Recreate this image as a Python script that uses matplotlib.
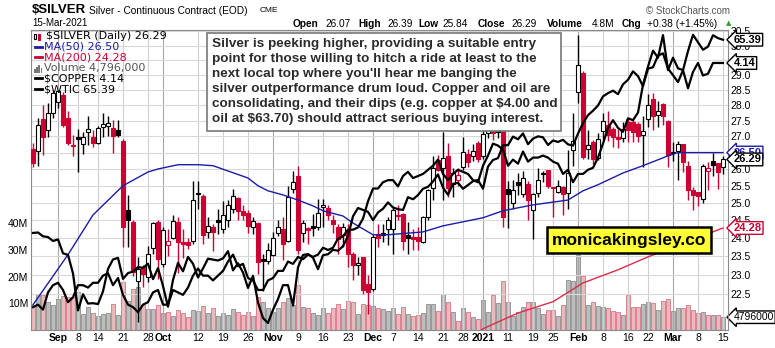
import numpy as np
import matplotlib
matplotlib.use("Agg")
import matplotlib.pyplot as plt
from matplotlib.patches import Rectangle
from matplotlib.lines import Line2D
from matplotlib.ticker import NullLocator
from matplotlib.transforms import blended_transform_factory as blend

W, H = 775, 348

# trading-day index: 0 = 8-Sep-2020 ... 129 = 15-Mar-2021
day = np.arange(-9, 130)

opn = [26.62, 26.55, 27.56, 27.21, 27.75, 28.10, 28.34, 27.59, 26.72,
       26.97, 26.78, 27.14, 26.97, 26.81, 27.30, 27.33, 27.27, 27.21, 26.87, 24.78, 24.46, 22.83, 23.20, 22.95, 23.72, 24.46,
       23.28, 23.80, 24.00, 24.46, 23.88, 23.88, 23.93, 25.30, 25.19, 24.18, 24.32, 24.52, 24.24, 24.52, 24.81, 25.13, 24.75, 24.72, 24.32, 24.43, 23.41, 23.36,
       23.53, 24.13, 24.24, 23.93, 25.39, 25.80, 24.13, 24.27, 24.33, 24.32, 24.87, 24.84, 24.52, 24.32, 24.07, 24.21, 23.57, 23.25, 23.47, 22.75,
       22.62, 24.10, 24.13, 24.24, 24.24, 24.61, 24.69, 24.07, 24.04, 24.04, 23.90, 24.58, 25.44, 26.28, 26.04, 26.41, 25.56, 25.68, 26.07, 26.47, 26.40, 26.80,
       26.40, 27.10, 27.75, 27.40, 27.24, 25.39, 24.98, 25.62, 25.25, 25.56, 24.78, 25.28, 25.89, 25.98, 25.45, 25.33, 25.45, 25.30, 26.59,
       28.42, 29.07, 26.62, 26.84, 26.34, 27.18, 27.37, 27.24, 26.98, 26.94, 27.46, 27.46, 27.40, 27.05, 27.56, 28.21, 27.69, 28.04, 27.50,
       26.53, 26.56, 26.75, 26.10, 25.36, 25.33, 25.10, 25.95, 26.25, 26.19, 26.07]
high = [26.80, 27.58, 28.00, 28.08, 28.45, 28.50, 28.42, 27.82, 27.06,
        27.24, 27.15, 27.66, 27.21, 27.34, 27.76, 27.65, 27.53, 27.53, 26.93, 25.22, 24.52, 23.47, 23.25, 23.77, 24.46, 24.52,
        24.30, 24.24, 24.66, 24.58, 24.24, 24.00, 25.65, 25.65, 25.25, 24.58, 24.38, 24.81, 25.04, 25.07, 25.39, 25.16, 24.95, 24.78, 24.58, 24.46, 23.57, 23.85,
        24.16, 24.52, 24.58, 25.50, 25.95, 26.10, 24.52, 24.30, 24.69, 25.10, 25.10, 24.95, 24.66, 24.38, 24.43, 24.38, 23.60, 23.47, 23.47, 22.98,
        24.09, 24.38, 24.38, 24.58, 24.87, 24.95, 24.72, 24.45, 24.24, 24.30, 24.63, 25.39, 26.41, 26.44, 27.13, 26.80, 26.04, 26.04, 26.97, 26.62, 26.75, 26.87,
        27.30, 27.80, 28.00, 27.50, 27.30, 25.65, 25.68, 25.89, 25.95, 25.65, 25.30, 26.04, 25.95, 25.98, 25.47, 25.68, 25.50, 26.59, 27.75,
        30.38, 29.14, 27.21, 26.90, 27.12, 27.75, 27.82, 27.30, 27.24, 27.47, 27.56, 27.56, 27.47, 27.66, 28.35, 28.41, 28.15, 28.08, 27.53,
        26.84, 26.87, 26.75, 26.25, 25.45, 25.33, 26.16, 26.22, 26.50, 26.19, 26.39]
low = [26.07, 26.10, 26.43, 26.99, 27.60, 27.90, 27.30, 26.72, 26.40,
       25.92, 26.47, 26.72, 26.68, 26.75, 26.99, 27.00, 26.50, 26.99, 23.75, 23.75, 22.97, 21.78, 22.67, 22.80, 23.55, 22.88,
       23.20, 23.50, 23.96, 23.05, 23.44, 23.69, 23.82, 24.81, 23.82, 24.00, 23.63, 24.10, 24.15, 24.30, 24.72, 24.50, 24.52, 24.15, 24.10, 23.02, 22.57, 23.30,
       23.50, 24.05, 23.39, 23.88, 25.30, 23.55, 23.88, 23.82, 24.05, 24.21, 24.30, 24.50, 24.15, 23.55, 23.74, 23.20, 22.85, 23.00, 22.49, 21.97,
       22.57, 23.74, 23.90, 23.80, 23.55, 24.50, 23.66, 23.55, 23.66, 23.66, 23.85, 24.52, 25.07, 25.95, 25.07, 25.16, 25.16, 25.50, 25.98, 26.07, 26.25, 26.20,
       26.30, 26.95, 26.90, 26.95, 24.30, 24.29, 24.81, 25.22, 25.16, 24.52, 23.96, 25.16, 25.60, 25.44, 24.60, 25.30, 24.64, 24.81, 26.10,
       28.07, 26.31, 26.31, 26.16, 26.28, 26.90, 26.87, 26.68, 26.65, 26.84, 26.84, 26.84, 26.84, 26.07, 27.31, 27.21, 27.30, 27.37, 26.07,
       26.25, 25.68, 25.92, 25.07, 24.78, 24.90, 24.98, 25.36, 25.80, 25.39, 25.84]
close = [26.19, 27.37, 26.99, 27.75, 28.40, 28.45, 27.37, 26.81, 26.69,
         26.91, 26.99, 27.24, 26.79, 27.27, 27.40, 27.43, 27.02, 27.05, 24.30, 24.52, 23.07, 23.15, 23.02, 23.55, 24.43, 23.41,
         24.21, 23.93, 24.49, 23.88, 23.83, 23.80, 25.07, 25.25, 24.07, 24.35, 24.18, 24.44, 24.66, 24.95, 25.19, 24.75, 24.66, 24.35, 24.49, 23.33, 23.36, 23.66,
         23.99, 24.30, 23.82, 25.16, 25.62, 23.66, 24.41, 24.21, 24.27, 24.72, 24.95, 24.64, 24.38, 23.96, 24.32, 23.55, 23.25, 23.31, 22.59, 22.54,
         24.04, 24.01, 24.07, 24.52, 24.78, 24.66, 23.93, 24.00, 23.96, 23.93, 24.60, 25.36, 26.04, 25.98, 26.34, 25.44, 25.89, 25.83, 26.53, 26.22, 26.56, 26.31,
         27.09, 27.65, 27.10, 27.15, 24.58, 25.25, 25.36, 25.53, 25.74, 25.07, 25.25, 25.68, 25.86, 25.50, 25.42, 25.48, 25.25, 25.89, 26.87,
         29.34, 26.37, 26.74, 26.31, 26.93, 27.50, 27.05, 26.97, 26.92, 27.24, 27.20, 27.15, 27.00, 27.18, 28.02, 27.66, 27.82, 27.66, 26.43,
         26.50, 26.75, 26.22, 25.36, 25.22, 25.19, 26.10, 26.04, 26.13, 25.91, 26.29]
volume_m = [9.4, 13.5, 13.1, 10.5, 9.4, 11.6, 12.7, 12.4, 12.4,
            14.2, 6.0, 8.6, 6.4, 5.2, 6.0, 6.4, 9.7, 5.6, 18.0, 10.9, 15.4, 16.1, 9.4, 7.9, 7.9, 9.4,
            6.4, 6.7, 5.2, 7.5, 6.4, 4.9, 7.5, 7.1, 9.0, 6.4, 8.2, 5.2, 6.4, 5.6, 7.9, 6.7, 5.6, 6.7, 5.2, 12.4, 10.5, 8.2,
            6.7, 8.2, 10.5, 12.0, 9.4, 16.9, 8.6, 8.2, 6.4, 5.6, 8.2, 6.4, 8.2, 9.7, 7.9, 10.9, 10.5, 6.0, 9.7, 9.4,
            9.0, 8.2, 7.9, 7.1, 8.2, 6.0, 8.6, 6.0, 5.2, 5.6, 6.4, 9.7, 9.7, 7.1, 13.5, 10.5, 6.7, 3.4, 8.2, 6.7, 4.9, 4.1,
            11.2, 6.7, 13.1, 10.0, 18.4, 10.5, 5.2, 6.7, 8.6, 10.5, 10.5, 8.2, 6.0, 7.5, 7.5, 5.2, 9.4, 18.7, 18.4,
            28.0, 20.2, 9.4, 10.5, 9.0, 8.6, 8.2, 7.1, 6.7, 5.6, 13.1, 8.6, 8.6, 9.7, 10.5, 10.1, 7.5, 10.9, 11.6,
            7.1, 8.2, 8.2, 9.4, 7.5, 6.4, 6.7, 5.6, 5.6, 5.6, 4.796]
copper = [2.97, 2.98, 2.96, 3.03, 3.06, 3.07, 3.04, 2.99, 3.01,
          3.06, 3.06, 3.05, 3.07, 3.07, 3.10, 3.11, 3.06, 3.09, 3.02, 2.98, 2.97, 2.95, 2.98, 2.99, 3.03, 3.04,
          2.98, 2.98, 3.04, 3.03, 3.02, 3.05, 3.10, 3.13, 3.10, 3.10, 3.08, 3.10, 3.12, 3.16, 3.19, 3.14, 3.15, 3.09, 3.08, 3.04, 3.04, 3.08,
          3.09, 3.12, 3.12, 3.16, 3.15, 3.18, 3.17, 3.19, 3.18, 3.19, 3.22, 3.21, 3.22, 3.26, 3.27, 3.30, 3.30, 3.31, 3.35, 3.43,
          3.49, 3.49, 3.52, 3.53, 3.53, 3.50, 3.55, 3.57, 3.54, 3.55, 3.56, 3.58, 3.60, 3.63, 3.56, 3.53, 3.56, 3.58, 3.57, 3.56, 3.53, 3.52,
          3.60, 3.65, 3.71, 3.70, 3.68, 3.60, 3.63, 3.61, 3.67, 3.62, 3.64, 3.64, 3.65, 3.64, 3.62, 3.61, 3.56, 3.58, 3.52,
          3.56, 3.56, 3.58, 3.59, 3.64, 3.71, 3.79, 3.83, 3.79, 3.77, 3.84, 3.83, 3.87, 4.02, 4.12, 4.21, 4.17, 4.30, 4.10,
          4.17, 4.11, 4.10, 4.00, 4.09, 4.14, 4.07, 4.08, 4.14, 4.14, 4.14]
wtic = [43.35, 43.39, 43.04, 42.97, 42.61, 42.76, 41.51, 41.37, 39.77,
        36.76, 38.05, 37.30, 37.33, 37.26, 38.28, 40.16, 40.97, 41.11, 39.31, 39.80, 39.93, 40.31, 40.25, 40.60, 39.29, 40.22,
        38.72, 37.05, 39.22, 40.67, 39.95, 41.19, 40.60, 39.43, 40.20, 41.04, 40.96, 40.88, 41.06, 41.70, 40.03, 40.64, 39.85, 38.56, 39.57, 37.39, 36.17, 35.79,
        36.81, 37.66, 38.79, 38.79, 37.14, 40.29, 41.36, 41.45, 41.12, 40.13, 41.34, 41.43, 41.82, 41.74, 42.15, 43.06, 44.91, 45.71, 45.53, 45.34,
        44.55, 45.28, 45.64, 46.26, 45.76, 45.60, 45.52, 46.78, 46.57, 46.99, 47.62, 47.82, 48.36, 49.10, 47.74, 47.02, 48.12, 48.23, 47.62, 48.00, 48.40, 48.52,
        47.62, 49.93, 50.63, 50.83, 52.24, 52.25, 53.21, 52.91, 53.57, 52.36, 52.98, 53.24, 53.13, 52.27, 52.77, 52.61, 52.85, 52.34, 52.20,
        53.55, 54.76, 55.69, 56.23, 56.85, 57.97, 58.36, 58.68, 58.24, 59.47, 60.05, 61.14, 60.52, 59.24, 61.49, 61.67, 63.22, 63.53, 61.50,
        60.64, 59.75, 61.28, 63.83, 66.09, 65.05, 64.01, 64.44, 66.02, 65.61, 65.39]

ma50_day = [-9, -2, 3, 9, 14, 16, 20, 24, 27, 30, 34, 36, 38, 41, 44, 47, 49, 53, 55, 59, 62,
            69, 73, 81, 85, 91, 98, 101, 104, 109, 113, 118, 120, 129]
ma50_val = [22.21, 23.54, 24.65, 25.50, 25.91, 26.00, 26.13, 26.13, 26.10, 25.94, 25.73, 25.50, 25.35,
            25.23, 25.08, 24.91, 24.77, 24.62, 24.42, 24.09, 24.09, 24.17, 24.34, 24.57, 24.77, 24.94,
            25.08, 25.35, 25.53, 25.88, 26.10, 26.40, 26.50, 26.50]
ma200_day = [80, 81, 88, 95, 101, 108, 114, 129]
ma200_val = [21.50, 21.60, 22.00, 22.29, 22.78, 23.13, 23.48, 24.28]

tick_day = [-4, 0, 4, 9, 14, 17, 24, 29, 34, 39, 44, 49, 54, 59, 63, 68, 73, 77, 81,
            86, 91, 95, 100, 105, 110, 114, 119, 124, 129]
tick_lab = ["Sep", "8", "14", "21", "28", "Oct", "12", "19", "26", "Nov", "9", "16", "23",
            "Dec", "7", "14", "21", "28", "2021", "11", "19", "25", "Feb", "8", "16", "22",
            "Mar", "8", "15"]
months = ["Sep", "Oct", "Nov", "Dec", "2021", "Feb", "Mar"]
price_ticks = np.arange(22.5, 30.51, 0.5)
vol_ticks = [10, 20, 30, 40]

note_lines = ["Silver is peeking higher, providing a suitable entry",
              "point for those willing to hitch a ride at least to the",
              "next local top where you'll hear me banging the",
              "silver outperformance drum loud. Copper and oil are",
              "consolidating, and their dips (e.g. copper at $4.00 and",
              "oil at $63.70) should attract serious buying interest."]

RED = "#cc0033"
NAVY = "#1c1ca8"
SANS = "Liberation Sans"


def fx(x):
    return x / W


def fy(y):
    return 1 - y / H


fig = plt.figure(figsize=(W / 100, H / 100), dpi=100)
rect = [fx(31), fy(330), (728 - 31) / W, 300 / H]
axv = fig.add_axes(rect, zorder=1)
ax = fig.add_axes(rect, zorder=2)
axc = fig.add_axes(rect, zorder=3)
axo = fig.add_axes(rect, zorder=3)
ax.patch.set_visible(False)
for a in (axv, ax, axc, axo):
    a.set_xlim(-9.4, 130)

o, h, l, c = map(np.array, (opn, high, low, close))
prev = np.r_[o[0], c[:-1]]
down = c < prev
col = np.where(down, RED, "black")
face = np.where(c < o, col, "white")

# volume
axv.bar(day, volume_m, width=0.8, color=np.where(down, "#e9b9be", "#bdbdbd"),
        edgecolor=np.where(down, "#d77584", "#8e8e8e"), lw=0.6)
axv.set_ylim(0, 112.4)
axv.yaxis.tick_left()
axv.set_yticks(vol_ticks)
axv.set_yticklabels([f"{v}M" for v in vol_ticks], fontsize=7.5, family=SANS)
axv.tick_params(axis="y", length=0, pad=2)
axv.set_xticks([])
for s in axv.spines.values():
    s.set_visible(False)

# price panel
ax.set_yscale("log")
ax.set_ylim(21.57, 30.55)
ax.yaxis.tick_right()
ax.set_yticks(price_ticks)
ax.set_yticklabels([f"{p:.1f}" for p in price_ticks], fontsize=7.5, family=SANS)
ax.yaxis.set_minor_locator(NullLocator())
ax.set_xticks(tick_day)
ax.set_xticklabels(tick_lab, fontsize=7.5, family=SANS)
for t in ax.get_xticklabels():
    if t.get_text() in months:
        t.set_fontweight("bold")
ax.tick_params(length=0, pad=2)
ax.grid(True, color="#d9d9d9", lw=0.8)
for g, lab in zip(ax.get_xgridlines(), tick_lab):
    g.set_color("#a8a8a8" if lab in months else "#d0d0d0")
ax.set_axisbelow(True)
for s in ax.spines.values():
    s.set_color("#8a8a8a")

ax.vlines(day, l, h, colors=col, lw=1, zorder=3)
ax.bar(day, np.maximum(np.abs(c - o), 0.025), bottom=np.minimum(o, c), width=0.76,
       color=face, edgecolor=col, lw=0.8, zorder=4)
ax.plot(ma50_day, ma50_val, color=NAVY, lw=1, zorder=5)
ax.plot(ma200_day, ma200_val, color="#dd2a4a", lw=1, zorder=5)

# overlays
axc.set_yscale("log")
axc.set_ylim(2.879, 4.33)
axc.plot(day, copper, color="black", lw=1.6)
axo.set_yscale("log")
axo.set_ylim(35.26, 66.76)
axo.plot(day, wtic, color="black", lw=1.6)
axc.axis("off")
axo.axis("off")


def tag(a, val, text, ec, tc="black"):
    a.text(1.008, val, text, transform=blend(a.transAxes, a.transData), ha="left",
           va="center", fontsize=8, fontweight="bold", family=SANS, color=tc,
           bbox=dict(boxstyle="larrow,pad=0.12", fc="white", ec=ec, lw=1),
           clip_on=False, zorder=20)


tag(axo, wtic[-1], f"{wtic[-1]:.2f}", "black")
tag(axc, copper[-1], f"{copper[-1]:.2f}", "black")
tag(ax, ma50_val[-1], f"{ma50_val[-1]:.2f}", NAVY, NAVY)
tag(ax, close[-1], f"{close[-1]:.2f}", "black")
tag(ax, ma200_val[-1], f"{ma200_val[-1]:.2f}", RED, RED)
axv.text(1.008, volume_m[-1], f"{int(volume_m[-1] * 1e6)}", transform=blend(axv.transAxes, axv.transData),
         ha="left", va="center", fontsize=7.5, family=SANS, clip_on=False, zorder=20,
         bbox=dict(boxstyle="larrow,pad=0.12", fc="white", ec="black", lw=1))

# header
fig.text(fx(32), fy(10), "$SILVER", fontsize=9.5, fontweight="bold", family=SANS, va="center")
fig.text(fx(89), fy(11), "Silver - Continuous Contract (EOD)", fontsize=7.3, family=SANS, va="center")
fig.text(fx(260), fy(11), "CME", fontsize=6, family=SANS, va="center")
fig.text(fx(32), fy(23.5), "15-Mar-2021", fontsize=7, family=SANS, va="center")
fig.text(fx(730), fy(11), "\u00a9 StockCharts.com", fontsize=7, family=SANS, va="center", ha="right",
         color="#555555")
head = [(293, "Open", True), (325, "26.07", False), (358, "High", True), (387, "26.39", False),
        (418, "Low", True), (442, "25.84", False), (478, "Close", True), (511, "26.29", False),
        (547, "Volume", True), (592, "4.8M", False), (622, "Chg", True), (647, "+0.38 (+1.45%)", False)]
for x, s, b in head:
    fig.text(fx(x), fy(24), s, fontsize=7.3, family=SANS, va="center",
             fontweight="bold" if b else "normal")
fig.text(fx(726), fy(23), "\u25b2", fontsize=5, color="#2a9d2a", va="center")

# legend
leg = [("$SILVER (Daily) 26.29", "black"), ("MA(50) 26.50", NAVY), ("MA(200) 24.28", RED),
       ("Volume 4,796,000", "#555555"), ("$COPPER 4.14", "black"), ("$WTIC 65.39", "black")]
for k, (s, cc) in enumerate(leg):
    yy = 36 + 10.6 * k
    fig.text(fx(44 if k else 46), fy(yy), s, fontsize=8, color=cc, va="center", zorder=12)
    if k in (1, 2, 4, 5):
        fig.add_artist(Line2D([fx(35), fx(42)], [fy(yy), fy(yy)], color=cc, lw=2, zorder=12))
fig.add_artist(Rectangle((fx(34), fy(39)), 2 / W, 5 / H, fc="white", ec="black", lw=0.8, zorder=12))
fig.add_artist(Rectangle((fx(38), fy(40)), 2 / W, 6 / H, fc=RED, ec=RED, lw=0.8, zorder=12))
for k, hh in enumerate([4, 6, 8, 5]):
    fig.add_artist(Rectangle((fx(34 + 2.2 * k), fy(73)), 1.6 / W, hh / H, fc="#777777", ec="none", zorder=12))

# commentary box
fig.add_artist(Rectangle((fx(207), fy(131)), (561 - 207) / W, 98 / H, transform=fig.transFigure,
                         fc="white", ec="#777777", lw=1.2, zorder=10))
for k, s in enumerate(note_lines):
    fig.text(fx(212), fy(44 + 15 * k), s, fontsize=9.7, fontweight="bold", family=SANS,
             color="#2b2b2b", va="center", zorder=11)

fig.text(fx(629), fy(240), "monicakingsley.co", ha="center", va="center", fontsize=12.5,
         fontweight="bold", family=SANS, zorder=12,
         bbox=dict(boxstyle="square,pad=0.3", fc="#ffff33", ec="black", lw=1.8))

fig.savefig("out.png", dpi=100)
